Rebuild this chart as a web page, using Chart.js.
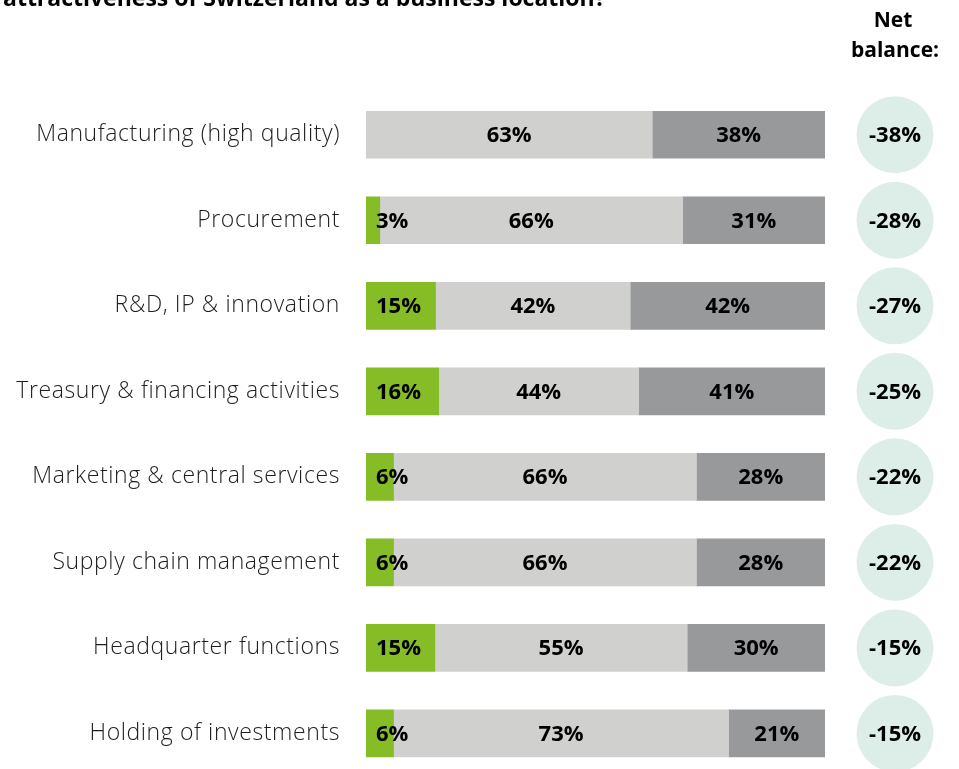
<!DOCTYPE html>
<html>
<head>
<meta charset="utf-8">
<script src="https://cdn.jsdelivr.net/npm/chart.js@4.4.1/dist/chart.umd.min.js"></script>
<style>
  html, body { margin: 0; padding: 0; background: #ffffff; overflow: hidden; }
  #wrap { position: absolute; left: 0; top: 0; width: 959px; height: 816px; }
</style>
</head>
<body>
<div id="wrap"><canvas id="c" width="959" height="816"></canvas></div>
<script>
const titleText = 'attractiveness of Switzerland as a business location?';
const headerLines = ['Net', 'balance:'];
const categories = [
  'Manufacturing (high quality)',
  'Procurement',
  'R&D, IP & innovation',
  'Treasury & financing activities',
  'Marketing & central services',
  'Supply chain management',
  'Headquarter functions',
  'Holding of investments'
];
const positive = [0, 3, 15, 16, 6, 6, 15, 6];
const neutral  = [63, 66, 42, 44, 66, 66, 55, 73];
const negative = [38, 31, 42, 41, 28, 28, 30, 21];
const netBalance = [-38, -28, -27, -25, -22, -22, -15, -15];

const COLORS = { pos: '#86bc25', neu: '#d0d0ce', neg: '#97999b', circle: '#ddeee8' };
const FONT = '"Open Sans", "DejaVu Sans", sans-serif';

const raw = [positive, neutral, negative];
const totals = categories.map((_, i) => positive[i] + neutral[i] + negative[i]);
const share = arr => arr.map((v, i) => v ? v / totals[i] * 100 : null);

const labelPlugin = {
  id: 'labels',
  beforeDraw(chart) {
    chart.ctx.letterSpacing = '0.6px';
  },
  afterDatasetsDraw(chart) {
    const ctx = chart.ctx;
    ctx.save();
    ctx.letterSpacing = '0px';
    ctx.font = 'bold 22px ' + FONT;
    ctx.fillStyle = '#000000';
    ctx.textBaseline = 'middle';
    chart.data.datasets.forEach((ds, di) => {
      const meta = chart.getDatasetMeta(di);
      meta.data.forEach((bar, i) => {
        const v = raw[di][i];
        if (!v) return;
        const txt = v + '%';
        const left = Math.min(bar.x, bar.base);
        const right = Math.max(bar.x, bar.base);
        if (di === 0) {
          ctx.textAlign = 'left';
          ctx.fillText(txt, left + 10, bar.y + 1);
        } else {
          ctx.textAlign = 'center';
          ctx.fillText(txt, (left + right) / 2, bar.y + 1);
        }
      });
    });
    ctx.restore();
  },
  afterDraw(chart) {
    const ctx = chart.ctx;
    const y = chart.scales.y;
    const cx = 895;
    ctx.save();
    ctx.letterSpacing = '0px';
    categories.forEach((_, i) => {
      const cy = y.getPixelForValue(i);
      ctx.beginPath();
      ctx.arc(cx, cy, 38.5, 0, Math.PI * 2);
      ctx.fillStyle = COLORS.circle;
      ctx.fill();
      ctx.fillStyle = '#000000';
      ctx.font = 'bold 22px ' + FONT;
      ctx.textAlign = 'center';
      ctx.textBaseline = 'middle';
      ctx.fillText(netBalance[i] + '%', cx, cy + 1);
    });
    ctx.font = 'bold 21px ' + FONT;
    ctx.textAlign = 'center';
    ctx.textBaseline = 'alphabetic';
    ctx.fillText(headerLines[0], 893, 27);
    ctx.fillText(headerLines[1], 895, 57);
    ctx.font = 'bold 23px ' + FONT;
    ctx.textAlign = 'left';
    ctx.fillText(titleText, 3, 6);
    ctx.restore();
  }
};

new Chart(document.getElementById('c'), {
  type: 'bar',
  data: {
    labels: categories,
    datasets: [
      { label: 'Positive', data: share(positive), backgroundColor: COLORS.pos },
      { label: 'Neutral',  data: share(neutral),  backgroundColor: COLORS.neu },
      { label: 'Negative', data: share(negative), backgroundColor: COLORS.neg }
    ]
  },
  options: {
    indexAxis: 'y',
    responsive: false,
    animation: false,
    devicePixelRatio: 1,
    layout: { padding: { top: 92, right: 134, bottom: 7, left: 0 } },
    datasets: { bar: { barThickness: 47, borderWidth: 0 } },
    plugins: { legend: { display: false }, tooltip: { enabled: false } },
    scales: {
      x: { display: false, stacked: true, min: 0, max: 100 },
      y: {
        stacked: true,
        grid: { display: false, drawTicks: false },
        border: { display: false },
        ticks: { padding: 26, color: '#1e1e1e', font: { family: FONT, size: 23, weight: '300' } },
        afterFit(scale) { scale.width = 366; }
      }
    }
  },
  plugins: [labelPlugin]
});
</script>
</body>
</html>
